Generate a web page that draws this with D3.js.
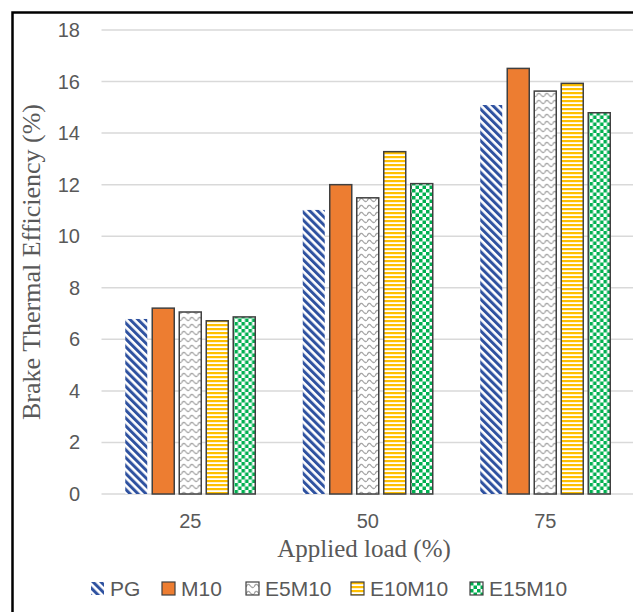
<!DOCTYPE html>
<html><head><meta charset="utf-8">
<script src="https://cdn.jsdelivr.net/npm/d3@7"></script>
<style>body{margin:0;background:#fff}svg{display:block}</style>
</head><body>
<svg id="c" width="633" height="612"></svg>
<script>
const categories = ["25", "50", "75"];
const seriesNames = ["PG", "M10", "E5M10", "E10M10", "E15M10"];
const PG = [6.79, 11.02, 15.09];
const M10 = [7.21, 12.0, 16.51];
const E5M10 = [7.06, 11.49, 15.63];
const E10M10 = [6.72, 13.28, 15.93];
const E15M10 = [6.87, 12.04, 14.79];
const yTicks = [0, 2, 4, 6, 8, 10, 12, 14, 16, 18];
const seriesValues = [PG, M10, E5M10, E10M10, E15M10];

const svg = d3.select("#c");
const defs = svg.append("defs");

// patterns
const pPG = defs.append("pattern").attr("id","pPG").attr("patternUnits","userSpaceOnUse")
  .attr("width",5.6).attr("height",5.6).attr("patternTransform","rotate(-45)");
pPG.append("rect").attr("width",5.6).attr("height",5.6).attr("fill","#fff");
pPG.append("rect").attr("width",3.0).attr("height",5.6).attr("fill","#2f52a0");

const pE5 = defs.append("pattern").attr("id","pE5").attr("patternUnits","userSpaceOnUse")
  .attr("width",8).attr("height",7);
pE5.append("rect").attr("width",8).attr("height",7).attr("fill","#fff");
pE5.append("path").attr("d","M0,5 Q2,0.5 4,3.5 T8,5").attr("fill","none").attr("stroke","#a6a6a6").attr("stroke-width",1.3);

const pE10 = defs.append("pattern").attr("id","pE10").attr("patternUnits","userSpaceOnUse")
  .attr("width",4).attr("height",4);
pE10.append("rect").attr("width",4).attr("height",4).attr("fill","#fff");
pE10.append("rect").attr("width",4).attr("height",2.2).attr("fill","#ffc000");

const pE15 = defs.append("pattern").attr("id","pE15").attr("patternUnits","userSpaceOnUse")
  .attr("width",7).attr("height",7);
pE15.append("rect").attr("width",7).attr("height",7).attr("fill","#fff");
pE15.append("rect").attr("width",3.5).attr("height",3.5).attr("fill","#00b050");
pE15.append("rect").attr("x",3.5).attr("y",3.5).attr("width",3.5).attr("height",3.5).attr("fill","#00b050");

const fills = ["url(#pPG)", "#ed7d31", "url(#pE5)", "url(#pE10)", "url(#pE15)"];
const strokes = ["none", "#404040", "#404040", "#404040", "#404040"];

// border
svg.append("path").attr("d","M12.5,612 V12.5 H633").attr("fill","none").attr("stroke","#000").attr("stroke-width",2.5);

const x0 = d3.scaleBand().domain(categories).range([101.5, 634]);
const x1 = d3.scaleBand().domain(seriesNames).range([23.75, 153.75]).paddingInner(0.185);
const y = d3.scaleLinear().domain([0, 18]).range([494, 30]);

// grid
svg.append("g").selectAll("line").data(yTicks).join("line")
  .attr("x1", 101.5).attr("x2", 633)
  .attr("y1", d => y(d)).attr("y2", d => y(d))
  .attr("stroke", "#d9d9d9").attr("stroke-width", 1.5);

// y tick labels
svg.append("g").selectAll("text").data(yTicks).join("text")
  .attr("x", 80).attr("y", d => y(d)).attr("dy", "0.35em")
  .attr("text-anchor", "end").attr("font-family", "Liberation Sans, Arial, sans-serif")
  .attr("font-size", 20).attr("fill", "#595959").text(d => d);

// bars
const groups = svg.append("g").selectAll("g").data(categories).join("g")
  .attr("transform", d => `translate(${x0(d)},0)`);
groups.selectAll("rect").data((c, ci) => seriesNames.map((s, si) => ({s, si, v: seriesValues[si][ci]})))
  .join("rect")
  .attr("x", d => x1(d.s)).attr("width", x1.bandwidth())
  .attr("y", d => y(d.v)).attr("height", d => y(0) - y(d.v))
  .attr("fill", d => fills[d.si]).attr("stroke", d => strokes[d.si]).attr("stroke-width", 1.5);

// x tick labels
svg.append("g").selectAll("text").data(categories).join("text")
  .attr("x", d => x0(d) + x0.bandwidth()/2).attr("y", 528)
  .attr("text-anchor", "middle").attr("font-family", "Liberation Sans, Arial, sans-serif")
  .attr("font-size", 20).attr("fill", "#595959").text(d => d);

// axis titles
svg.append("text").attr("x", 364).attr("y", 557).attr("text-anchor", "middle")
  .attr("font-family", "Liberation Serif, Times New Roman, serif").attr("font-size", 25)
  .attr("fill", "#595959").text("Applied load (%)");
svg.append("text").attr("transform", "translate(40,262) rotate(-90)").attr("text-anchor", "middle")
  .attr("font-family", "Liberation Serif, Times New Roman, serif").attr("font-size", 26)
  .attr("fill", "#595959").text("Brake Thermal Efficiency (%)");

// legend
const legX = [91, 162, 246, 351, 470];
const leg = svg.append("g").selectAll("g").data(seriesNames).join("g")
  .attr("transform", (d, i) => `translate(${legX[i]},582)`);
leg.append("rect").attr("width", 13).attr("height", 13)
  .attr("fill", (d, i) => fills[i]).attr("stroke", (d, i) => strokes[i]).attr("stroke-width", 1.2);
leg.append("text").attr("x", 19).attr("y", 6.5).attr("dy", "0.35em")
  .attr("font-family", "Liberation Sans, Arial, sans-serif").attr("font-size", 21)
  .attr("fill", "#595959").text(d => d);
</script>
</body></html>
